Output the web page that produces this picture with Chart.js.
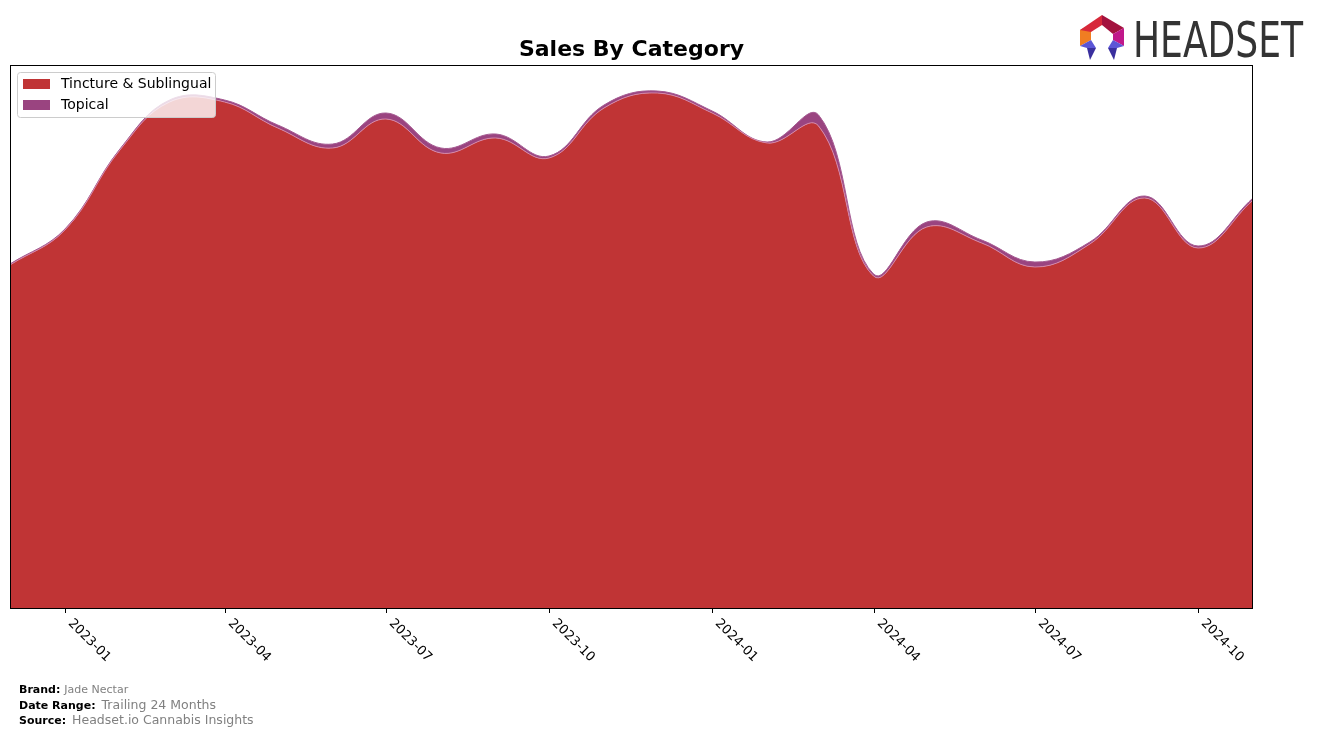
<!DOCTYPE html>
<html>
<head>
<meta charset="utf-8">
<script src="https://cdn.jsdelivr.net/npm/chart.js@4.4.0/dist/chart.umd.min.js"></script>
<style>
  html, body { margin: 0; padding: 0; background: #fff; }
  canvas { display: block; }
</style>
</head>
<body>
<canvas id="sales-chart" width="1317" height="738"></canvas>
<script>
// data (monthly, arbitrary units)
const months = ['2022-12', '2023-01', '2023-02', '2023-03', '2023-04', '2023-05',
    '2023-06', '2023-07', '2023-08', '2023-09', '2023-10', '2023-11',
    '2023-12', '2024-01', '2024-02', '2024-03', '2024-04', '2024-05',
    '2024-06', '2024-07', '2024-08', '2024-09', '2024-10', '2024-11'];
const tincture = [343, 378, 458, 506, 506, 480, 460, 489, 455, 470, 450, 500,
    515, 495, 465, 482, 332, 381, 365, 341, 364, 410, 360, 408];
const topical = [1, 1, 1, 2, 2, 3, 4, 6, 5, 4, 2, 3,
    2, 2, 1, 11, 2, 5, 3, 5, 2, 2, 2, 2];
const tickLabels = ['2023-01', '2023-04', '2023-07', '2023-10',
    '2024-01', '2024-04', '2024-07', '2024-10'];
const seriesNames = ['Tincture & Sublingual', 'Topical'];
const seriesColors = ['#c03435', '#9a4480'];

// months -> days since the first month
function dayOf(m) {
    const [y, mo] = m.split('-').map(Number);
    return (Date.UTC(y, mo - 1, 1) - Date.UTC(2022, 11, 1)) / 86400000;
}

const decorations = {
    id: 'decorations',
    afterDraw(chart) {
        const ctx = chart.ctx;
        const a = chart.chartArea;
        const xs = chart.scales.x;
        ctx.save();

        // frame
        ctx.strokeStyle = '#000';
        ctx.lineWidth = 1;
        ctx.strokeRect(a.left + 0.5, a.top + 0.5, a.right - a.left - 1, a.bottom - a.top);

        // x ticks and rotated labels
        ctx.font = '13px "DejaVu Sans"';
        ctx.fillStyle = '#000';
        ctx.textAlign = 'left';
        ctx.textBaseline = 'top';
        tickLabels.forEach(t => {
            const px = Math.round(xs.getPixelForValue(dayOf(t))) + 0.5;
            ctx.beginPath();
            ctx.moveTo(px, a.bottom);
            ctx.lineTo(px, a.bottom + 5);
            ctx.stroke();
            ctx.save();
            ctx.translate(px + 5, a.bottom + 13);
            ctx.rotate(Math.PI / 4);
            ctx.fillText(t, 0, -6);
            ctx.restore();
        });

        // title
        ctx.font = 'bold 22px "DejaVu Sans"';
        ctx.textAlign = 'center';
        ctx.textBaseline = 'middle';
        ctx.fillText('Sales By Category', (a.left + a.right) / 2, 50);

        // legend
        ctx.fillStyle = 'rgba(255,255,255,0.8)';
        ctx.strokeStyle = '#cccccc';
        ctx.beginPath();
        ctx.roundRect(17.5, 72.5, 198, 45, 3);
        ctx.fill();
        ctx.stroke();
        ctx.font = '14px "DejaVu Sans"';
        ctx.textAlign = 'left';
        seriesNames.forEach((n, i) => {
            const cy = 84 + i * 21;
            ctx.fillStyle = seriesColors[i];
            ctx.fillRect(23, cy - 5, 27, 10);
            ctx.fillStyle = '#000';
            ctx.fillText(n, 61, cy);
        });

        // footer
        const foot = [
            ['Brand:', 'Jade Nectar', 690, 11],
            ['Date Range:', 'Trailing 24 Months', 706, 12.5],
            ['Source:', 'Headset.io Cannabis Insights', 721, 12.5]
        ];
        foot.forEach(([k, v, y, s]) => {
            ctx.font = 'bold 11px "DejaVu Sans"';
            ctx.fillStyle = '#000';
            ctx.fillText(k, 19, y);
            const w = ctx.measureText(k).width;
            ctx.font = s + 'px "DejaVu Sans"';
            ctx.fillStyle = '#808080';
            ctx.fillText(v, 19 + w + (s > 11 ? 6 : 4), y);
        });

        // logo
        const cx = 1102, cy = 37;
        const segs = [
            ['#f07d22', [[-22, -7], [-11, -13], [-11, 3], [-22, 9]]],
            ['#d7283a', [[-22, -7], [0, -22], [0, -12], [-11, -5]]],
            ['#a3123e', [[0, -22], [22, -9], [11, -3], [0, -12]]],
            ['#c0188a', [[22, -9], [22, 9], [11, 3], [11, -3]]],
            ['#5b55d6', [[-22, 9], [-11, 3], [-6, 11], [-15, 11]]],
            ['#3a2f9e', [[-15, 11], [-6, 11], [-12, 23]]],
            ['#5b55d6', [[22, 9], [11, 3], [6, 11], [15, 11]]],
            ['#3a2f9e', [[15, 11], [6, 11], [12, 23]]]
        ];
        segs.forEach(([c, pts]) => {
            ctx.fillStyle = c;
            ctx.beginPath();
            pts.forEach(([dx, dy], i) => i ? ctx.lineTo(cx + dx, cy + dy) : ctx.moveTo(cx + dx, cy + dy));
            ctx.closePath();
            ctx.fill();
        });
        ctx.font = '50px "Liberation Sans Narrow", "DejaVu Sans Condensed", sans-serif';
        ctx.fillStyle = '#333333';
        ctx.textBaseline = 'alphabetic';
        ctx.fillText('HEADSET', 1133, 57, 170);

        ctx.restore();
    }
};

const data = {
    datasets: [
        {
            label: seriesNames[0],
            data: months.map((m, i) => ({ x: dayOf(m), y: tincture[i] })),
            backgroundColor: seriesColors[0],
            borderColor: 'rgba(214,140,175,0.9)',
            borderWidth: 1,
            fill: 'origin'
        },
        {
            label: seriesNames[1],
            data: months.map((m, i) => ({ x: dayOf(m), y: topical[i] })),
            backgroundColor: seriesColors[1],
            borderColor: 'rgba(165,90,145,1)',
            borderWidth: 1,
            fill: '-1'
        }
    ]
};

const config = {
    type: 'line',
    data,
    options: {
        responsive: false,
        animation: false,
        devicePixelRatio: 1,
        layout: { padding: { left: 10, right: 64, top: 65, bottom: 130 } },
        elements: { point: { radius: 0 }, line: { tension: 0.4 } },
        scales: {
            x: { type: 'linear', min: 0, max: dayOf('2024-11'), display: false },
            y: { stacked: true, min: 0, max: 543, display: false }
        },
        plugins: {
            legend: { display: false },
            title: { display: false },
            tooltip: { enabled: false }
        }
    },
    plugins: [decorations]
};

const myChart = new Chart(document.getElementById('sales-chart'), config);
</script>
</body>
</html>
